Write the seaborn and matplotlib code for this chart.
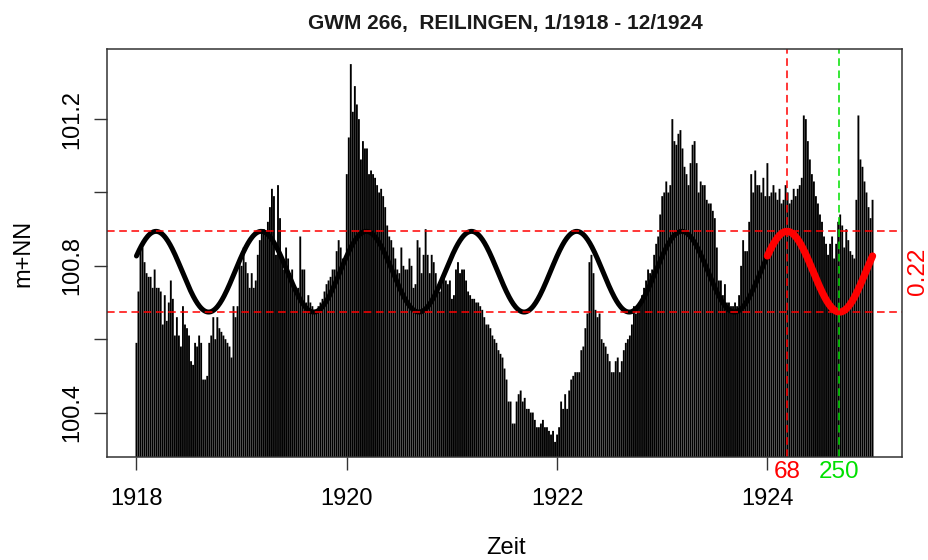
import numpy as np
import pandas as pd
import matplotlib
matplotlib.use("Agg")
import matplotlib.pyplot as plt
import matplotlib.transforms as mtransforms
import seaborn as sns

# Weekly groundwater level readings (m+NN), one list per year
lvl_1918 = [100.59, 100.73, 100.84, 100.85, 100.81, 100.78, 100.77, 100.77, 100.74, 100.79,
            100.74, 100.74, 100.73, 100.64, 100.72, 100.65, 100.70, 100.76, 100.71, 100.61,
            100.66, 100.61, 100.58, 100.69, 100.64, 100.63, 100.61, 100.54, 100.53, 100.59,
            100.58, 100.61, 100.59, 100.49, 100.49, 100.50, 100.59, 100.61, 100.66, 100.60,
            100.66, 100.63, 100.62, 100.61, 100.60, 100.59, 100.58, 100.55, 100.69, 100.66,
            100.69, 100.81]
lvl_1919 = [100.80, 100.85, 100.81, 100.78, 100.74, 100.78, 100.74, 100.76, 100.83, 100.87,
            100.90, 100.90, 100.89, 100.92, 100.96, 101.01, 100.99, 100.83, 101.02, 100.93,
            100.81, 100.79, 100.85, 100.82, 100.78, 100.79, 100.74, 100.72, 100.74, 100.88,
            100.79, 100.79, 100.70, 100.72, 100.70, 100.69, 100.68, 100.67, 100.69, 100.70,
            100.71, 100.73, 100.75, 100.76, 100.77, 100.79, 100.79, 100.84, 100.87, 100.85,
            100.82, 100.82]
lvl_1920 = [101.05, 101.15, 101.35, 101.22, 101.29, 101.24, 101.20, 101.09, 101.14, 101.12,
            101.12, 101.05, 101.06, 101.05, 101.04, 101.02, 101.00, 101.01, 100.99, 100.96,
            100.91, 100.88, 100.87, 100.85, 100.82, 100.79, 100.78, 100.85, 100.80, 100.79,
            100.79, 100.82, 100.80, 100.74, 100.75, 100.87, 100.85, 100.78, 100.83, 100.90,
            100.83, 100.78, 100.83, 100.81, 100.78, 100.74, 100.73, 100.75, 100.78, 100.76,
            100.75, 100.76]
lvl_1921 = [100.71, 100.72, 100.79, 100.81, 100.78, 100.79, 100.79, 100.76, 100.73, 100.72,
            100.71, 100.71, 100.70, 100.70, 100.69, 100.68, 100.66, 100.64, 100.64, 100.63,
            100.61, 100.60, 100.59, 100.57, 100.56, 100.55, 100.52, 100.49, 100.43, 100.43,
            100.37, 100.37, 100.43, 100.45, 100.46, 100.43, 100.44, 100.41, 100.41, 100.40,
            100.40, 100.38, 100.36, 100.36, 100.37, 100.38, 100.36, 100.36, 100.35, 100.34,
            100.35, 100.32]
lvl_1922 = [100.34, 100.36, 100.43, 100.41, 100.45, 100.41, 100.46, 100.49, 100.50, 100.51,
            100.51, 100.51, 100.57, 100.58, 100.63, 100.67, 100.81, 100.83, 100.78, 100.68,
            100.66, 100.67, 100.60, 100.59, 100.58, 100.56, 100.54, 100.51, 100.51, 100.54,
            100.55, 100.51, 100.54, 100.57, 100.59, 100.60, 100.61, 100.64, 100.69, 100.67,
            100.69, 100.70, 100.72, 100.74, 100.76, 100.79, 100.78, 100.79, 100.83, 100.86,
            100.88, 100.94]
lvl_1923 = [100.99, 101.00, 101.03, 101.00, 101.02, 101.20, 101.14, 101.13, 101.16, 101.17,
            101.12, 101.07, 101.05, 101.02, 101.08, 101.13, 101.14, 101.08, 101.00, 101.03,
            101.02, 101.02, 100.98, 100.97, 100.97, 100.95, 100.93, 100.85, 100.76, 100.76,
            100.72, 100.75, 100.70, 100.70, 100.69, 100.69, 100.70, 100.69, 100.72, 100.80,
            100.87, 100.84, 100.84, 100.92, 101.05, 101.00, 101.06, 101.02, 101.02, 101.00,
            101.04, 100.99]
lvl_1924 = [101.08, 100.99, 101.00, 101.02, 101.00, 100.98, 101.01, 100.97, 100.98, 101.02,
            101.00, 100.97, 100.98, 101.01, 100.99, 101.01, 101.02, 101.04, 101.21, 101.20,
            101.14, 101.09, 101.05, 101.03, 100.99, 100.97, 100.94, 100.92, 100.88, 100.86,
            100.83, 100.86, 100.88, 100.82, 100.86, 100.92, 100.94, 100.91, 100.85, 100.90,
            100.87, 100.84, 100.83, 100.82, 100.98, 101.21, 101.09, 101.07, 101.03, 101.00,
            100.96, 100.93, 100.98]

# Seasonal cycle: day of maximum, day of minimum, peak-to-peak range, mean level
peak_day = 68
trough_day = 250
season_range = 0.22
mean_level = 100.784

title_text = "GWM 266,  REILINGEN, 1/1918 - 12/1924"
x_ticks = [1918, 1920, 1922, 1924]
x_tick_labels = ["1918", "1920", "1922", "1924"]
y_ticks = [100.4, 100.6, 100.8, 101.0, 101.2]
y_tick_labels = ["100.4", "", "100.8", "", "101.2"]
last_year = 1924

sns.set_theme(style="ticks")
plt.rcParams["font.family"] = ["Liberation Sans", "DejaVu Sans"]
plt.rcParams["text.color"] = "black"

levels = np.array(lvl_1918 + lvl_1919 + lvl_1920 + lvl_1921 + lvl_1922 + lvl_1923 + lvl_1924)
t = 1918 + np.arange(levels.size) / 52.0
df = pd.DataFrame({"t": t, "level": levels})

# axis ranges extended by 4 % like R's default
yspan = levels.max() - levels.min()
ylo, yhi = levels.min() - 0.04 * yspan, levels.max() + 0.04 * yspan
tspan = t.max() - t.min()
xlo, xhi = t.min() - 0.04 * tspan, t.max() + 0.04 * tspan


def seasonal(tt):
    return mean_level + season_range / 2 * np.cos(2 * np.pi * (tt - peak_day / 365.0))


fig = plt.figure(figsize=(9.29, 5.60), dpi=100)
ax = fig.add_axes([107 / 929, 103 / 560, 795 / 929, 408 / 560])

# histogram-like vertical lines for each reading
bars = ax.vlines(df["t"], ylo - 1.0, df["level"], color="black", linewidth=1.35)
bars.set_snap(False)

# fitted annual cycle: black for the history, red for the last year
t_hist = np.linspace(1918, last_year, 900)
t_last = np.linspace(last_year, last_year + 1, 200)
sns.lineplot(x=t_hist, y=seasonal(t_hist), color="black", linewidth=3.6,
             ax=ax, sort=False, estimator=None)
sns.lineplot(x=t_last, y=seasonal(t_last), color="#FF0000", linewidth=5.2,
             ax=ax, sort=False, estimator=None)
for line in ax.get_lines():
    line.set_solid_capstyle("round")

dash = (0, (5, 3))
ax.axhline(mean_level + season_range / 2, color="#FF0000", lw=1.1, ls=dash)
ax.axhline(mean_level - season_range / 2, color="#FF0000", lw=1.1, ls=dash)
t_peak = last_year + peak_day / 365.0
t_trough = last_year + trough_day / 365.0
ax.axvline(t_peak, color="#FF0000", lw=1.1, ls=dash)
ax.axvline(t_trough, color="#00E000", lw=1.1, ls=dash)

bx = mtransforms.blended_transform_factory(ax.transData, ax.transAxes)
ax.text(t_peak, -0.01, str(peak_day), transform=bx, ha="center", va="top",
        color="#FF0000", fontsize=17.5)
ax.text(t_trough, -0.01, str(trough_day), transform=bx, ha="center", va="top",
        color="#00E000", fontsize=17.5)
by = mtransforms.blended_transform_factory(ax.transAxes, ax.transData)
ax.text(1.0195, mean_level, f"{season_range:.2f}", transform=by, rotation=90,
        ha="center", va="center", color="#FF0000", fontsize=17.5)

ax.set_xlim(xlo, xhi)
ax.set_ylim(ylo, yhi)
ax.set_xticks(x_ticks)
ax.set_xticklabels(x_tick_labels)
ax.set_yticks(y_ticks)
ax.set_yticklabels(y_tick_labels, rotation=90, va="center")
ax.tick_params(axis="both", direction="out", length=9.5, width=1.0,
               color="#333333", labelsize=17, labelcolor="black")
ax.tick_params(axis="x", pad=12.5)
ax.tick_params(axis="y", pad=7.5)
ax.set_xlabel("")
ax.set_ylabel("")
for sp in ax.spines.values():
    sp.set_visible(True)
    sp.set_color("#333333")
    sp.set_linewidth(1.1)

fig.text(505 / 929, 1 - 23 / 560, title_text, ha="center", va="center",
         fontsize=15, fontweight="bold", color="#1a1a1a")
fig.text(506 / 929, 1 - 548 / 560, "Zeit", ha="center", va="center", fontsize=17)
fig.text(23 / 929, 1 - 253 / 560, "m+NN", ha="center", va="center",
         rotation=90, fontsize=17)

fig.savefig("out.png", dpi=100)
